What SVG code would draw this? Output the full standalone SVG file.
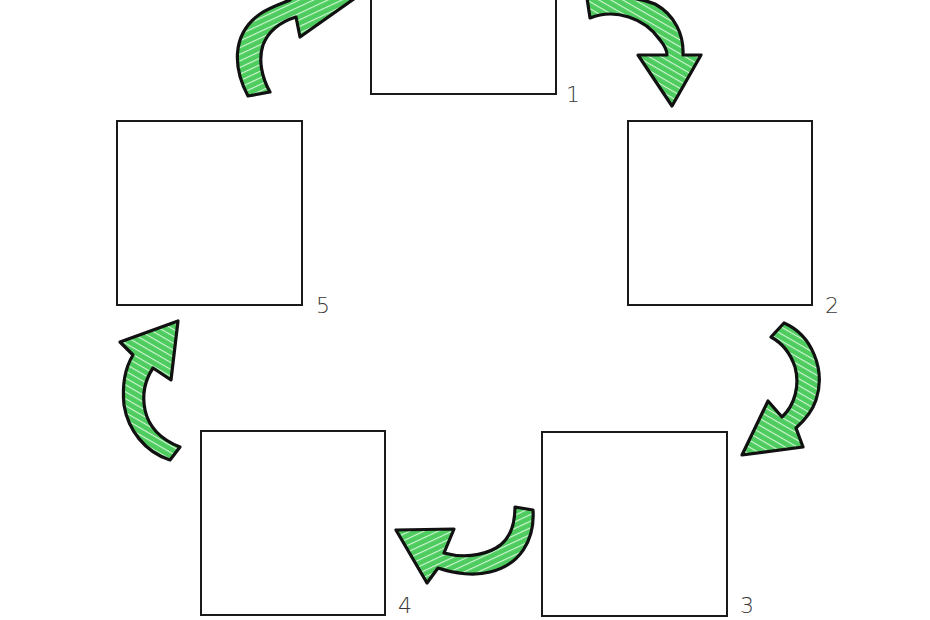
<svg xmlns="http://www.w3.org/2000/svg" width="930" height="620" viewBox="0 0 930 620">
<style>
.box{fill:#fff;stroke:#1a1a1a;stroke-width:2}
.lbl{font-family:"DejaVu Sans","Liberation Sans",sans-serif;font-size:22px;fill:#3a3a3a;font-weight:300}
.arrow{stroke:#111;stroke-width:3.2;stroke-linejoin:round}
</style>
<defs>
<pattern id="hatchA" patternUnits="userSpaceOnUse" width="6" height="6" patternTransform="rotate(65)">
<rect width="6" height="6" fill="#4fcc5f"/>
<line x1="0" y1="0" x2="0" y2="6" stroke="#d2f7d6" stroke-width="2.2"/>
</pattern>
<pattern id="hatchB" patternUnits="userSpaceOnUse" width="6" height="6" patternTransform="rotate(120)">
<rect width="6" height="6" fill="#4fcc5f"/>
<line x1="0" y1="0" x2="0" y2="6" stroke="#d2f7d6" stroke-width="2.2"/>
</pattern>
</defs>
<rect width="930" height="620" fill="#fff"/>
<g id="node1"><rect class="box" x="371" y="-90" width="185" height="184"/><text class="lbl" x="566" y="102">1</text></g>
<g id="node2"><rect class="box" x="628" y="121" width="184" height="184"/><text class="lbl" x="825" y="313">2</text></g>
<g id="node3"><rect class="box" x="542" y="432" width="185" height="184"/><text class="lbl" x="740" y="613">3</text></g>
<g id="node4"><rect class="box" x="201" y="431" width="184" height="184"/><text class="lbl" x="398" y="613">4</text></g>
<g id="node5"><rect class="box" x="117" y="121" width="185" height="184"/><text class="lbl" x="316" y="313">5</text></g>
<g id="connectors">
<path class="arrow" fill="url(#hatchA)" d="M248,96 C234,70 230,35 260,14 C268,8 280,4 290,0 L285,-10 L358,-4 L300,37 L296,17 C280,22 268,32 263,45 C258,60 262,78 270,92 Z"/>
<path class="arrow" fill="url(#hatchB)" d="M587,-2 L590,18 C615,8 645,18 660,40 C665,46 667,50 667,55 L638,55 L672,106 L701,55 L683,55 C684,35 675,15 655,4 C645,0 630,-3 615,-3 Z"/>
<path class="arrow" fill="url(#hatchB)" d="M771,337 L784,323 C812,335 826,370 816,400 C812,412 805,420 796,428 L803,447 L742,455 L768,401 L782,417 C795,405 800,385 795,367 C790,352 782,343 771,337 Z"/>
<path class="arrow" fill="url(#hatchA)" d="M515,507 L533,510 C535,540 520,565 490,572 C475,576 455,574 438,568 L427,583 L396,530 L454,529 L444,553 C462,558 482,556 496,548 C510,540 515,525 515,507 Z"/>
<path class="arrow" fill="url(#hatchB)" d="M180,447 L170,460 C145,452 128,430 124,405 C122,385 125,368 133,355 L120,342 L178,321 L171,380 L153,368 C145,380 142,395 145,410 C149,428 162,440 180,447 Z"/>
</g>
</svg>
